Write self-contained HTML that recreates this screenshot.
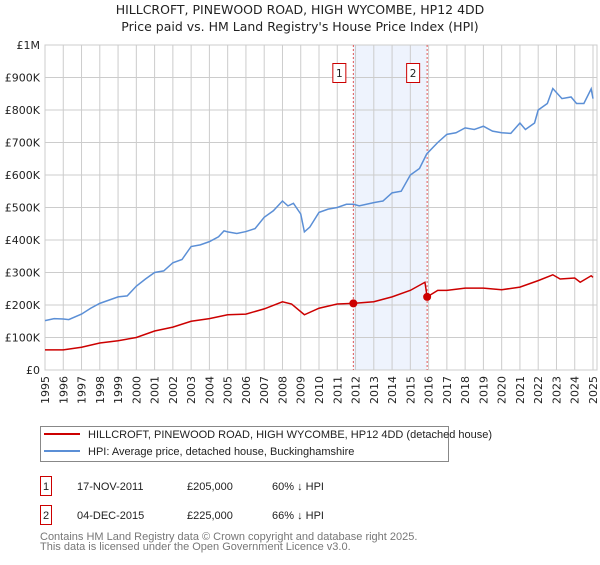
<!DOCTYPE html>
<html><head><meta charset="utf-8"><style>
body{margin:0;background:#fff;font-family:"Liberation Sans","DejaVu Sans",sans-serif}
svg text{font-family:"DejaVu Sans","Liberation Sans",sans-serif}
svg text.ls{font-family:"Liberation Sans",sans-serif}
</style></head><body>
<svg id="c" width="600" height="560" xmlns="http://www.w3.org/2000/svg">
<text x="300" y="14" text-anchor="middle" font-size="12.5" fill="#222">HILLCROFT, PINEWOOD ROAD, HIGH WYCOMBE, HP12 4DD</text>
<text x="300" y="31" text-anchor="middle" font-size="12.5" fill="#222">Price paid vs. HM Land Registry's House Price Index (HPI)</text>
<g id="grid"></g><g id="marks"></g><g id="axes"></g>
<g>
<rect x="40.5" y="426.5" width="408" height="35" fill="#fff" stroke="#888"/>
<line x1="44" y1="434" x2="80" y2="434" stroke="#cc0000" stroke-width="2"/>
<text class="ls" x="88" y="438" font-size="11" fill="#222">HILLCROFT, PINEWOOD ROAD, HIGH WYCOMBE, HP12 4DD (detached house)</text>
<line x1="44" y1="451" x2="80" y2="451" stroke="#5b8fd6" stroke-width="2"/>
<text class="ls" x="88" y="455" font-size="11" fill="#222">HPI: Average price, detached house, Buckinghamshire</text>
</g>
<g font-size="11" fill="#222">
<rect x="40.5" y="476.5" width="11" height="19" fill="#fff" stroke="#cc0000"/><text class="ls" x="46" y="490" text-anchor="middle">1</text>
<text class="ls" x="77" y="490">17-NOV-2011</text><text class="ls" x="187" y="490">£205,000</text><text class="ls" x="272" y="490">60% ↓ HPI</text>
<rect x="40.5" y="505.5" width="11" height="19" fill="#fff" stroke="#cc0000"/><text class="ls" x="46" y="519" text-anchor="middle">2</text>
<text class="ls" x="77" y="519">04-DEC-2015</text><text class="ls" x="187" y="519">£225,000</text><text class="ls" x="272" y="519">66% ↓ HPI</text>
</g>
<text class="ls" x="40" y="540" font-size="11" fill="#777">Contains HM Land Registry data © Crown copyright and database right 2025.</text>
<text class="ls" x="40" y="550" font-size="11" fill="#777">This data is licensed under the Open Government Licence v3.0.</text>
</svg>
<script>
const yTicks=[0,100,200,300,400,500,600,700,800,900,1000];
const yTickLabels=["£0","£100K","£200K","£300K","£400K","£500K","£600K","£700K","£800K","£900K","£1M"];
const xYears=[1995,1996,1997,1998,1999,2000,2001,2002,2003,2004,2005,2006,2007,2008,2009,2010,2011,2012,2013,2014,2015,2016,2017,2018,2019,2020,2021,2022,2023,2024,2025];
const hpiT=[1995,1995.5,1996,1996.3,1997,1997.5,1998,1998.5,1999,1999.5,2000,2000.5,2001,2001.5,2002,2002.5,2003,2003.5,2004,2004.5,2004.8,2005,2005.5,2006,2006.5,2007,2007.5,2008,2008.3,2008.6,2009,2009.2,2009.5,2010,2010.5,2011,2011.5,2011.9,2012.2,2013,2013.5,2014,2014.5,2015,2015.5,2015.9,2016.5,2017,2017.5,2018,2018.5,2019,2019.5,2020,2020.5,2021,2021.3,2021.8,2022,2022.5,2022.8,2023.3,2023.8,2024.1,2024.5,2024.9,2025];
const hpiV=[152,158,157,155,172,190,205,215,225,228,258,280,300,305,330,340,380,385,395,410,428,425,420,426,435,470,490,520,505,513,480,425,440,485,495,500,510,510,505,515,520,545,550,600,620,665,700,725,730,745,740,750,735,730,728,760,740,760,800,820,866,835,840,820,820,865,835];
const ppT=[1995,1996,1997,1998,1999,2000,2001,2002,2003,2004,2005,2006,2007,2008,2008.5,2009.2,2010,2011,2011.88,2013,2014,2015,2015.8,2015.92,2016.5,2017,2018,2019,2020,2021,2022,2022.8,2023.2,2024,2024.3,2024.9,2025];
const ppV=[62,62,70,83,90,100,120,132,150,158,170,172,188,210,203,170,190,203,205,210,225,245,270,225,245,245,252,252,247,255,275,293,280,283,270,290,285];
const saleT=[2011.88,2015.92];
const saleV=[205,225];
const saleLabels=["1","2"];
const X0=45,X1=593,Y0=370,Y1=45,XR=597;
const xs=t=>X0+(t-1995)/30*(X1-X0);
const ys=v=>Y0-v/1000*(Y0-Y1);
const NS="http://www.w3.org/2000/svg";
function mk(p,tag,a){const e=document.createElementNS(NS,tag);for(const k in a)e.setAttribute(k,a[k]);p.appendChild(e);return e;}
const grid=document.getElementById('grid'),marks=document.getElementById('marks'),axes=document.getElementById('axes');
const shade=mk(grid,'rect',{x:xs(saleT[0]),y:Y1,width:xs(saleT[1])-xs(saleT[0]),height:Y0-Y1,fill:'#eef3fd'});


yTicks.forEach((v,i)=>{
 const l=mk(grid,'line',{x1:X0,x2:XR,y1:ys(v),y2:ys(v),stroke:'#cccccc'});
 
 
 const t=mk(axes,'text',{x:40,y:ys(v)+4,'text-anchor':'end','font-size':'11',fill:'#222'});
 t.textContent=yTickLabels[i];
 
 
});
xYears.forEach(y=>{
 const l=mk(grid,'line',{x1:xs(y),x2:xs(y),y1:Y1,y2:Y0,stroke:'#cccccc'});
 
 
 const t=mk(axes,'text',{x:0,y:0,'text-anchor':'end','font-size':'11',fill:'#222',transform:`translate(${xs(y)+4},376) rotate(-90)`});
 t.textContent=y;
 
 
});
const fr=mk(grid,'rect',{x:X0,y:Y1,width:XR-X0,height:Y0-Y1,fill:'none',stroke:'#cccccc'});


saleT.forEach((t,i)=>{
 const l=mk(marks,'line',{x1:xs(t),x2:xs(t),y1:Y1,y2:Y0,stroke:'#e05555','stroke-dasharray':'2,2'});
 
 
});
const hp=mk(marks,'polyline',{points:hpiT.map((t,i)=>xs(t)+','+ys(hpiV[i])).join(' '),fill:'none',stroke:'#5b8fd6','stroke-width':1.5});


const pp=mk(marks,'polyline',{points:ppT.map((t,i)=>xs(t)+','+ys(ppV[i])).join(' '),fill:'none',stroke:'#cc0000','stroke-width':1.5});


saleT.forEach((t,i)=>{
 const c=mk(marks,'circle',{cx:xs(t),cy:ys(saleV[i]),r:4,fill:'#cc0000'});
 
 
 const g=mk(marks,'g',{});
 
 
 mk(g,'rect',{x:xs(t)-20.5,y:63.5,width:13,height:19,fill:'#fff',stroke:'#cc0000'});
 const tx=mk(g,'text',{x:xs(t)-14,y:77,'text-anchor':'middle','font-size':'10.5',fill:'#222'});
 tx.textContent=saleLabels[i];
});
</script>
</body></html>
